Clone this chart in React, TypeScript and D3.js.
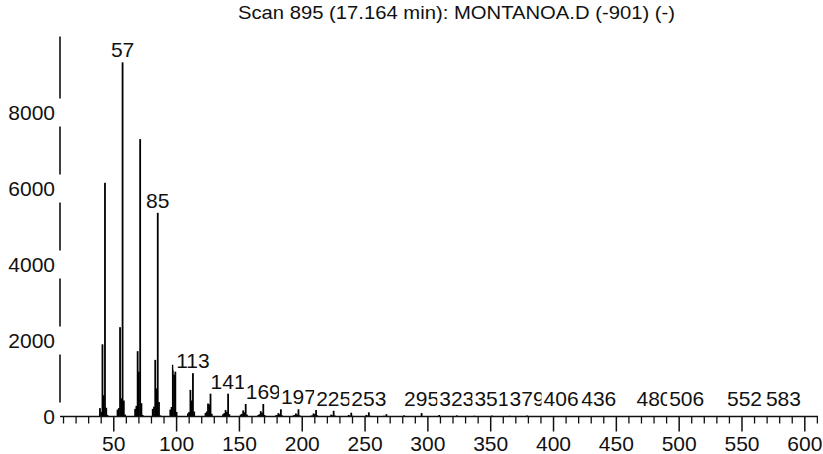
import React from "react";
import * as d3 from "d3";

const TITLE = "Scan 895 (17.164 min): MONTANOA.D (-901) (-)";

const MZ = [
  39, 40, 41, 42, 43, 44, 45,
  53, 54, 55, 56, 57, 58, 59,
  67, 68, 69, 70, 71, 72, 73,
  81, 82, 83, 84, 85, 86, 87,
  95, 96, 97, 98, 99, 100,
  109, 110, 111, 112, 113, 114,
  123, 124, 125, 126, 127, 128,
  137, 138, 139, 140, 141, 142,
  151, 152, 153, 154, 155, 156,
  165, 166, 167, 168, 169, 170,
  179, 180, 181, 182, 183, 184,
  193, 194, 195, 196, 197, 198,
  207, 208, 209, 210, 211, 212,
  223, 224, 225, 226,
  237, 238, 239, 240,
  251, 252, 253, 254,
  265, 267, 281, 295, 309, 323, 337, 351, 365, 379, 393, 406, 421, 436, 480, 506, 552, 583,
];

const INTENSITY = [
  220, 120, 1900, 560, 6150, 230, 40,
  180, 220, 2350, 480, 9320, 420, 50,
  200, 280, 1720, 1180, 7300, 350, 40,
  200, 260, 1490, 740, 5360, 380, 30,
  180, 250, 1360, 1100, 1180, 120,
  80, 120, 700, 420, 1140, 130,
  90, 130, 340, 320, 600, 70,
  60, 90, 170, 120, 600, 60,
  50, 70, 160, 110, 330, 50,
  40, 60, 140, 100, 330, 40,
  30, 40, 90, 60, 190, 30,
  30, 40, 80, 50, 190, 30,
  20, 30, 80, 60, 170, 30,
  50, 30, 150, 25,
  40, 20, 100, 20,
  40, 25, 110, 20,
  20, 60, 30, 90, 40, 30, 20, 25, 20, 25, 10, 10, 8, 10, 8, 8, 6, 6,
];

const PEAK_LABELS = [57, 85, 113, 141, 169, 197, 225, 253, 295, 323, 351, 379, 406, 436, 480, 506, 552, 583];
const Y_TICKS = [0, 2000, 4000, 6000, 8000];
const X_MAJOR = [50, 100, 150, 200, 250, 300, 350, 400, 450, 500, 550, 600];
const X_MINOR = [10, 20, 30, 40, 60, 70, 80, 90, 110, 120, 130, 140, 160, 170, 180, 190, 210, 220, 230, 240, 260, 270, 280, 290, 310, 320, 330, 340, 360, 370, 380, 390, 410, 420, 430, 440, 460, 470, 480, 490, 510, 520, 530, 540, 560, 570, 580, 590, 610];

const W = 823;
const H = 454;
const FONT = "'Liberation Sans', Arial, sans-serif";

export default function App() {
  const x = d3.scaleLinear().domain([7.2, 610.5]).range([60, 818]);
  const y = d3.scaleLinear().domain([0, 10000]).range([416.5, 36.5]);
  const base = y(0);
  const peaks = MZ.map((m, i) => ({ m, v: INTENSITY[i] }));
  const lookup = new Map(peaks.map((p) => [p.m, p.v]));
  const fs = 21;
  const digitW = fs * 0.556;

  return (
    <svg width={W} height={H} style={{ position: "absolute", left: 0, top: 0, background: "#fff" }}>
      <rect x={0} y={0} width={W} height={H} fill="#fff" />
      <text x={238} y={19} fontFamily={FONT} fontSize={18.5} fill="#111" textLength={437} lengthAdjust="spacingAndGlyphs">
        {TITLE}
      </text>
      <line x1={60} x2={60} y1={y(10000)} y2={base} stroke="#111" strokeWidth={1.6} />
      {Y_TICKS.map((t) => (
        <g key={"y" + t}>
          <rect x={6} y={y(t) - 14} width={57} height={28} fill="#fff" />
          <text x={55} y={y(t) + 7.5} textAnchor="end" fontFamily={FONT} fontSize={fs} fill="#111">
            {t}
          </text>
        </g>
      ))}
      {peaks.map((p) => (
        <rect key={"p" + p.m} x={x(p.m) - 0.9} y={y(p.v)} width={1.8} height={base - y(p.v)} fill="#000" />
      ))}
      {PEAK_LABELS.map((m) => {
        const v = lookup.get(m) ?? 0;
        const baseline = Math.min(y(v) - 5, 405.5);
        const tw = String(m).length * digitW;
        const cx = x(m);
        return (
          <g key={"l" + m}>
            <rect x={cx - tw / 2 - 2} y={baseline - 17} width={tw + 2.5} height={19} fill="#fff" />
            <text x={cx} y={baseline} textAnchor="middle" fontFamily={FONT} fontSize={fs} fill="#111">
              {m}
            </text>
          </g>
        );
      })}
      <line x1={60} x2={818} y1={base} y2={base} stroke="#111" strokeWidth={1.6} />
      {X_MINOR.map((t) => (
        <line key={"mn" + t} x1={x(t)} x2={x(t)} y1={base} y2={base + 7} stroke="#111" strokeWidth={1.3} />
      ))}
      {X_MAJOR.map((t) => (
        <g key={"mj" + t}>
          <line x1={x(t)} x2={x(t)} y1={base} y2={base + 15} stroke="#111" strokeWidth={1.5} />
          <text x={x(t)} y={450.5} textAnchor="middle" fontFamily={FONT} fontSize={fs} fill="#111">
            {t}
          </text>
        </g>
      ))}
    </svg>
  );
}
